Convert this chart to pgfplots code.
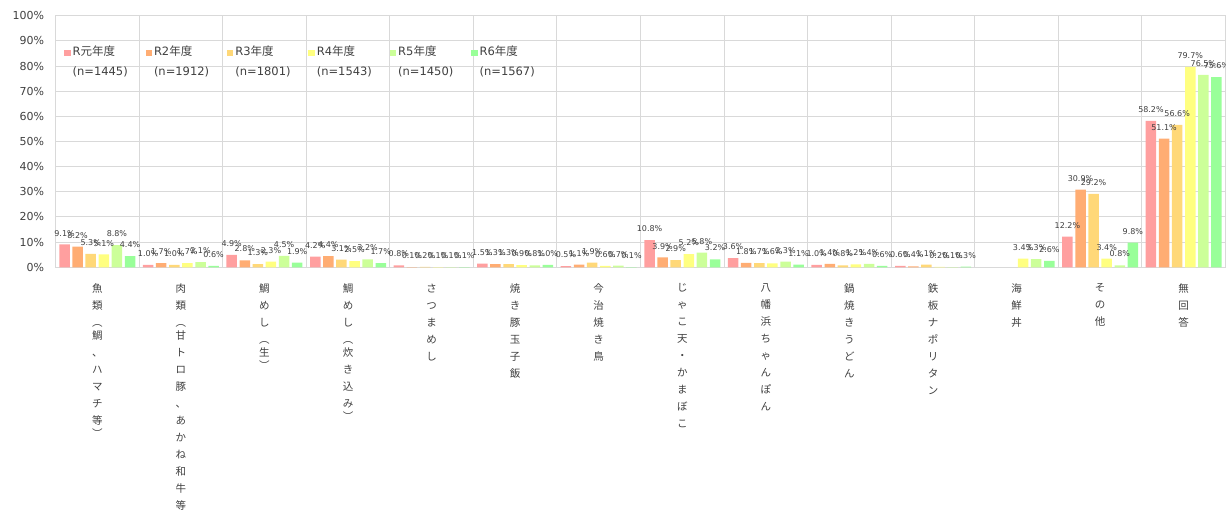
\documentclass[border=0pt]{standalone}
\usepackage{fontspec}
\usepackage{pgfplots}
\pgfplotsset{compat=1.18}
\setmainfont{DejaVu Sans}
\newfontfamily\jp{Noto Sans CJK JP}
\definecolor{c1}{RGB}{255,159,159}
\definecolor{c2}{RGB}{255,173,115}
\definecolor{c3}{RGB}{255,216,120}
\definecolor{c4}{RGB}{255,255,128}
\definecolor{c5}{RGB}{204,255,153}
\definecolor{c6}{RGB}{153,255,153}
\definecolor{txt}{RGB}{64,64,64}
\definecolor{grd}{RGB}{217,217,217}
\pgfplotsset{
  sq/.style={legend image code/.code={\fill[##1] (0pt,-3.2pt) rectangle (6.4pt,3.2pt);}},
}
\begin{document}
\begin{tikzpicture}
\begin{axis}[
  scale only axis, width=1170pt, height=251.6pt,
  ymin=0, ymax=100, xmin=-0.5, xmax=13.5,
  ybar=2.6pt, bar width=10.5pt,
  /pgf/number format/assume math mode=true,
  ytick={0,10,...,100},
  yticklabel={\pgfmathprintnumber{\tick}\%},
  yticklabel style={font=\fontsize{11}{13}\selectfont, text=txt, xshift=-8pt},
  xtick={0,...,13},
  minor xtick={-0.5,0.5,...,13.5},
  xticklabels={
    {魚\\類\\︵\\[-4pt]鯛\\、\\ハ\\マ\\チ\\等\\[-4pt]︶},
    {肉\\類\\︵\\[-4pt]甘\\ト\\ロ\\豚\\、\\あ\\か\\ね\\和\\牛\\等\\[-4pt]︶},
    {鯛\\め\\し\\︵\\[-4pt]生\\[-4pt]︶},
    {鯛\\め\\し\\︵\\[-4pt]炊\\き\\込\\み\\[-4pt]︶},
    {さ\\つ\\ま\\め\\し},
    {焼\\き\\豚\\玉\\子\\飯},
    {今\\治\\焼\\き\\鳥},
    {じ\\ゃ\\こ\\天\\・\\か\\ま\\ぼ\\こ},
    {八\\幡\\浜\\ち\\ゃ\\ん\\ぽ\\ん},
    {鍋\\焼\\き\\う\\ど\\ん},
    {鉄\\板\\ナ\\ポ\\リ\\タ\\ン},
    {海\\鮮\\丼},
    {そ\\の\\他},
    {無\\回\\答}},
  xticklabel style={font=\jp\fontsize{10.5}{17}\selectfont, align=center, anchor=north, text=txt, yshift=-13pt},
  major tick length=0pt, minor tick length=0pt,
  ymajorgrids=true, xminorgrids=true, xmajorgrids=false,
  major grid style={draw=grd, line width=1pt},
  minor grid style={draw=grd, line width=1pt},
  axis line style={draw=none},
  clip=false,
  nodes near coords={\pgfmathprintnumber[fixed,fixed zerofill,precision=1]{\pgfplotspointmeta}\%},
  every node near coord/.append style={font=\fontsize{8}{9}\selectfont, text=txt, inner sep=1pt, yshift=7pt, anchor=south},
  legend columns=6,
  legend cell align=left,
  legend style={draw=none, fill=none, inner sep=0pt,
    at={(axis description cs:0,1)}, anchor=north west, xshift=8.5pt, yshift=-31.5pt,
    font=\fontsize{11.5}{13}\selectfont, text=txt,
    nodes={text width=71pt, inner xsep=2pt, inner ysep=0pt, text height=8pt, text depth=3pt},
    /tikz/column sep=0pt, /tikz/row sep=9pt},
]
\addplot[fill=c1, draw=none, sq] coordinates {(0,9.1) (1,1.0) (2,4.9) (3,4.2) (4,0.8) (5,1.5) (6,0.5) (7,10.8) (8,3.6) (9,1.0) (10,0.6) (12,12.2) (13,58.2)};
\addplot[fill=c2, draw=none, sq] coordinates {(0,8.2) (1,1.7) (2,2.8) (3,4.4) (4,0.1) (5,1.3) (6,1.1) (7,3.9) (8,1.8) (9,1.4) (10,0.4) (12,30.9) (13,51.1)};
\addplot[fill=c3, draw=none, sq] coordinates {(0,5.3) (1,1.0) (2,1.3) (3,3.1) (4,0.2) (5,1.3) (6,1.9) (7,2.9) (8,1.7) (9,0.8) (10,1.1) (12,29.2) (13,56.6)};
\addplot[fill=c4, draw=none, sq] coordinates {(0,5.1) (1,1.7) (2,2.3) (3,2.5) (4,0.1) (5,0.9) (6,0.6) (7,5.2) (8,1.6) (9,1.2) (10,0.2) (11,3.4) (12,3.4) (13,79.7)};
\addplot[fill=c5, draw=none, sq] coordinates {(0,8.8) (1,2.1) (2,4.5) (3,3.2) (4,0.1) (5,0.8) (6,0.7) (7,5.8) (8,2.3) (9,1.4) (10,0.1) (11,3.3) (12,0.8) (13,76.5)};
\addplot[fill=c6, draw=none, sq] coordinates {(0,4.4) (1,0.6) (2,1.9) (3,1.7) (4,0.1) (5,1.0) (6,0.1) (7,3.2) (8,1.1) (9,0.6) (10,0.3) (11,2.6) (12,9.8) (13,75.6)};
\addlegendentry{R{\jp 元年度}}
\addlegendentry{R2{\jp 年度}}
\addlegendentry{R3{\jp 年度}}
\addlegendentry{R4{\jp 年度}}
\addlegendentry{R5{\jp 年度}}
\addlegendentry{R6{\jp 年度}}
\addlegendimage{empty legend}\addlegendentry{(n=1445)}
\addlegendimage{empty legend}\addlegendentry{(n=1912)}
\addlegendimage{empty legend}\addlegendentry{(n=1801)}
\addlegendimage{empty legend}\addlegendentry{(n=1543)}
\addlegendimage{empty legend}\addlegendentry{(n=1450)}
\addlegendimage{empty legend}\addlegendentry{(n=1567)}
\end{axis}
\pgfresetboundingbox
\path[use as bounding box] ([shift={(-55.5pt,-243.7pt)}]current axis.south west) rectangle ([shift={(0.5pt,15.7pt)}]current axis.north east);
\end{tikzpicture}
\end{document}
